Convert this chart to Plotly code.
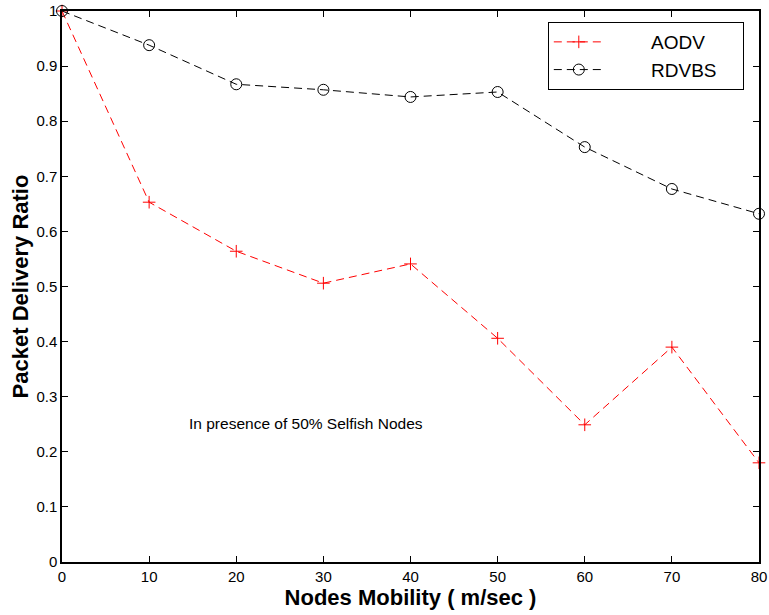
import plotly.graph_objects as go

mobility = [0, 10, 20, 30, 40, 50, 60, 70, 80]
aodv = [1.0, 0.653, 0.564, 0.506, 0.541, 0.406, 0.249, 0.390, 0.180]
rdvbs = [1.0, 0.938, 0.867, 0.857, 0.844, 0.853, 0.753, 0.677, 0.632]
x_ticks = [0, 10, 20, 30, 40, 50, 60, 70, 80]
y_ticks = [0, 0.1, 0.2, 0.3, 0.4, 0.5, 0.6, 0.7, 0.8, 0.9, 1]
y_tick_labels = ["0", "0.1", "0.2", "0.3", "0.4", "0.5", "0.6", "0.7", "0.8", "0.9", "1"]
series_names = ["AODV", "RDVBS"]

FONT = "Liberation Sans, Arial, sans-serif"
pad = "\u00a0" * 8
tail = "\u00a0" * 4

fig = go.Figure()
fig.add_trace(go.Scatter(
    x=mobility, y=aodv, name=pad + series_names[0] + tail, mode="lines+markers",
    line=dict(color="#ff0000", width=1, dash="8px,5px"),
    marker=dict(symbol="cross-thin-open", size=9, color="#ff0000",
                line=dict(color="#ff0000", width=1)),
    cliponaxis=False,
))
fig.add_trace(go.Scatter(
    x=mobility, y=rdvbs, name=pad + series_names[1] + tail, mode="lines+markers",
    line=dict(color="#000000", width=1, dash="8px,5px"),
    marker=dict(symbol="circle-open", size=11, color="#000000",
                line=dict(color="#000000", width=1)),
    cliponaxis=False,
))

axis_common = dict(
    showgrid=False, zeroline=False, showline=True, linecolor="black", linewidth=1.5,
    mirror="ticks", ticks="inside", ticklen=6, tickwidth=1, tickcolor="black",
    automargin=False,
    tickfont=dict(family=FONT, size=15, color="black"),
)

fig.update_layout(
    width=769, height=615,
    margin=dict(l=62, r=10, t=11, b=53),
    plot_bgcolor="white", paper_bgcolor="white",
    xaxis=dict(range=[0, 80], tickvals=x_ticks, ticktext=[str(v) for v in x_ticks],
               title=dict(text="<b>Nodes Mobility ( m/sec )</b>", standoff=4,
                          font=dict(family=FONT, size=22, color="black")),
               **axis_common),
    yaxis=dict(range=[0, 1], tickvals=y_ticks, ticktext=y_tick_labels,
               title=dict(text="<b>Packet Delivery Ratio</b>", standoff=2,
                          font=dict(family=FONT, size=22, color="black")),
               **axis_common),
    legend=dict(x=0.697, y=0.98, xanchor="left", yanchor="top",
                bordercolor="black", borderwidth=1, bgcolor="white",
                itemwidth=50, tracegroupgap=0,
                font=dict(family=FONT, size=19, color="black")),
    showlegend=True,
    annotations=[dict(x=14.3, y=0.252, xref="x", yref="y", xanchor="left", yanchor="middle",
                      text="In presence of 50% Selfish Nodes", showarrow=False,
                      font=dict(family=FONT, size=15.5, color="black"))],
)

fig.write_html("out.html")
